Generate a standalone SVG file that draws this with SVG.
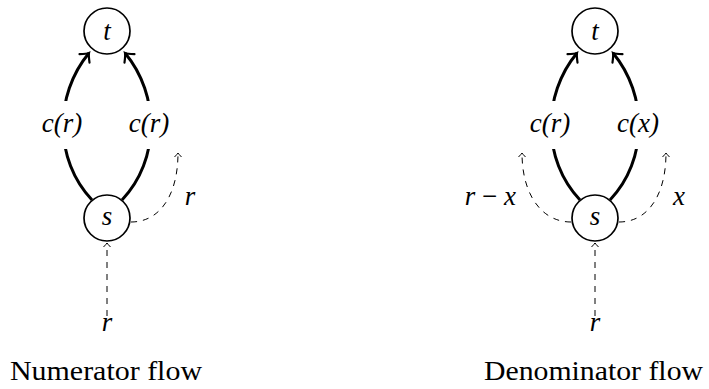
<svg xmlns="http://www.w3.org/2000/svg" width="709" height="389" viewBox="0 0 709 389">
<defs>
<marker id="big" markerUnits="userSpaceOnUse" markerWidth="20" markerHeight="20" viewBox="-10 -10 20 20" refX="0" refY="0" orient="auto">
<path d="M-7,-6.5 Q-2,-1 0,0 Q-2,1 -7,6.5" fill="none" stroke="#000" stroke-width="2.2" stroke-linecap="round"/>
</marker>
<marker id="small" markerUnits="userSpaceOnUse" markerWidth="12" markerHeight="12" viewBox="-6 -6 12 12" refX="0" refY="0" orient="auto">
<path d="M-4,-3.5 Q-1,-0.6 0,0 Q-1,0.6 -4,3.5" fill="none" stroke="#000" stroke-width="1"/>
</marker>
</defs>
<rect width="709" height="389" fill="#fff"/>
<g id="connectors">
<g fill="none" stroke="#000" stroke-width="3" marker-end="url(#big)">
<path d="M92,200 C54,160 54,95 89,53"/>
<path d="M122,200 C160,160 160,95 125,53"/>
<path d="M580,200 C542,160 542,95 577,53"/>
<path d="M610,200 C648,160 648,95 613,53"/>
</g>
<g fill="none" stroke="#000" stroke-width="1" stroke-dasharray="6 6" marker-end="url(#small)">
<path d="M131,222 C160,222 178,195 178,153"/>
<path d="M107,316 L107,243"/>
<path d="M619,222 C648,222 666,195 666,153"/>
<path d="M571,222 C542,222 522,195 522,153"/>
<path d="M595,316 L595,243"/>
</g>
<g fill="#fff">
<rect x="40" y="101" width="44" height="48"/>
<rect x="127" y="101" width="44" height="48"/>
<rect x="528" y="101" width="44" height="48"/>
<rect x="615" y="101" width="46" height="48"/>
</g>
<text font-family="Times New Roman" font-style="italic" font-size="27" x="62" y="132" text-anchor="middle">c(r)</text>
<text font-family="Times New Roman" font-style="italic" font-size="27" x="149" y="132" text-anchor="middle">c(r)</text>
<text font-family="Times New Roman" font-style="italic" font-size="27" x="190" y="205" text-anchor="middle">r</text>
<text font-family="Times New Roman" font-style="italic" font-size="27" x="107" y="331" text-anchor="middle">r</text>
<text font-family="Times New Roman" font-style="italic" font-size="27" x="550" y="132" text-anchor="middle">c(r)</text>
<text font-family="Times New Roman" font-style="italic" font-size="27" x="638" y="132" text-anchor="middle">c(x)</text>
<text font-family="Times New Roman" font-style="italic" font-size="27" x="679" y="205" text-anchor="middle">x</text>
<text font-family="Times New Roman" font-style="italic" font-size="27" x="516" y="205" text-anchor="end">r <tspan font-style="normal">&#8722;</tspan> x</text>
<text font-family="Times New Roman" font-style="italic" font-size="27" x="595" y="331" text-anchor="middle">r</text>
</g>
<g id="num-t"><circle cx="107" cy="31" r="23" fill="#fff" stroke="#000" stroke-width="1.7"/><text font-family="Times New Roman" font-style="italic" font-size="27" x="107" y="40" text-anchor="middle">t</text></g>
<g id="num-s"><circle cx="107" cy="218" r="23" fill="#fff" stroke="#000" stroke-width="1.7"/><text font-family="Times New Roman" font-style="italic" font-size="27" x="107" y="225" text-anchor="middle">s</text></g>
<g id="den-t"><circle cx="595" cy="31" r="23" fill="#fff" stroke="#000" stroke-width="1.7"/><text font-family="Times New Roman" font-style="italic" font-size="27" x="595" y="40" text-anchor="middle">t</text></g>
<g id="den-s"><circle cx="595" cy="218" r="23" fill="#fff" stroke="#000" stroke-width="1.7"/><text font-family="Times New Roman" font-style="italic" font-size="27" x="595" y="225" text-anchor="middle">s</text></g>
<text font-family="Times New Roman" font-size="28" x="10" y="380" textLength="192" lengthAdjust="spacingAndGlyphs">Numerator flow</text>
<text font-family="Times New Roman" font-size="28" x="484" y="380" textLength="219" lengthAdjust="spacingAndGlyphs">Denominator flow</text>
</svg>
